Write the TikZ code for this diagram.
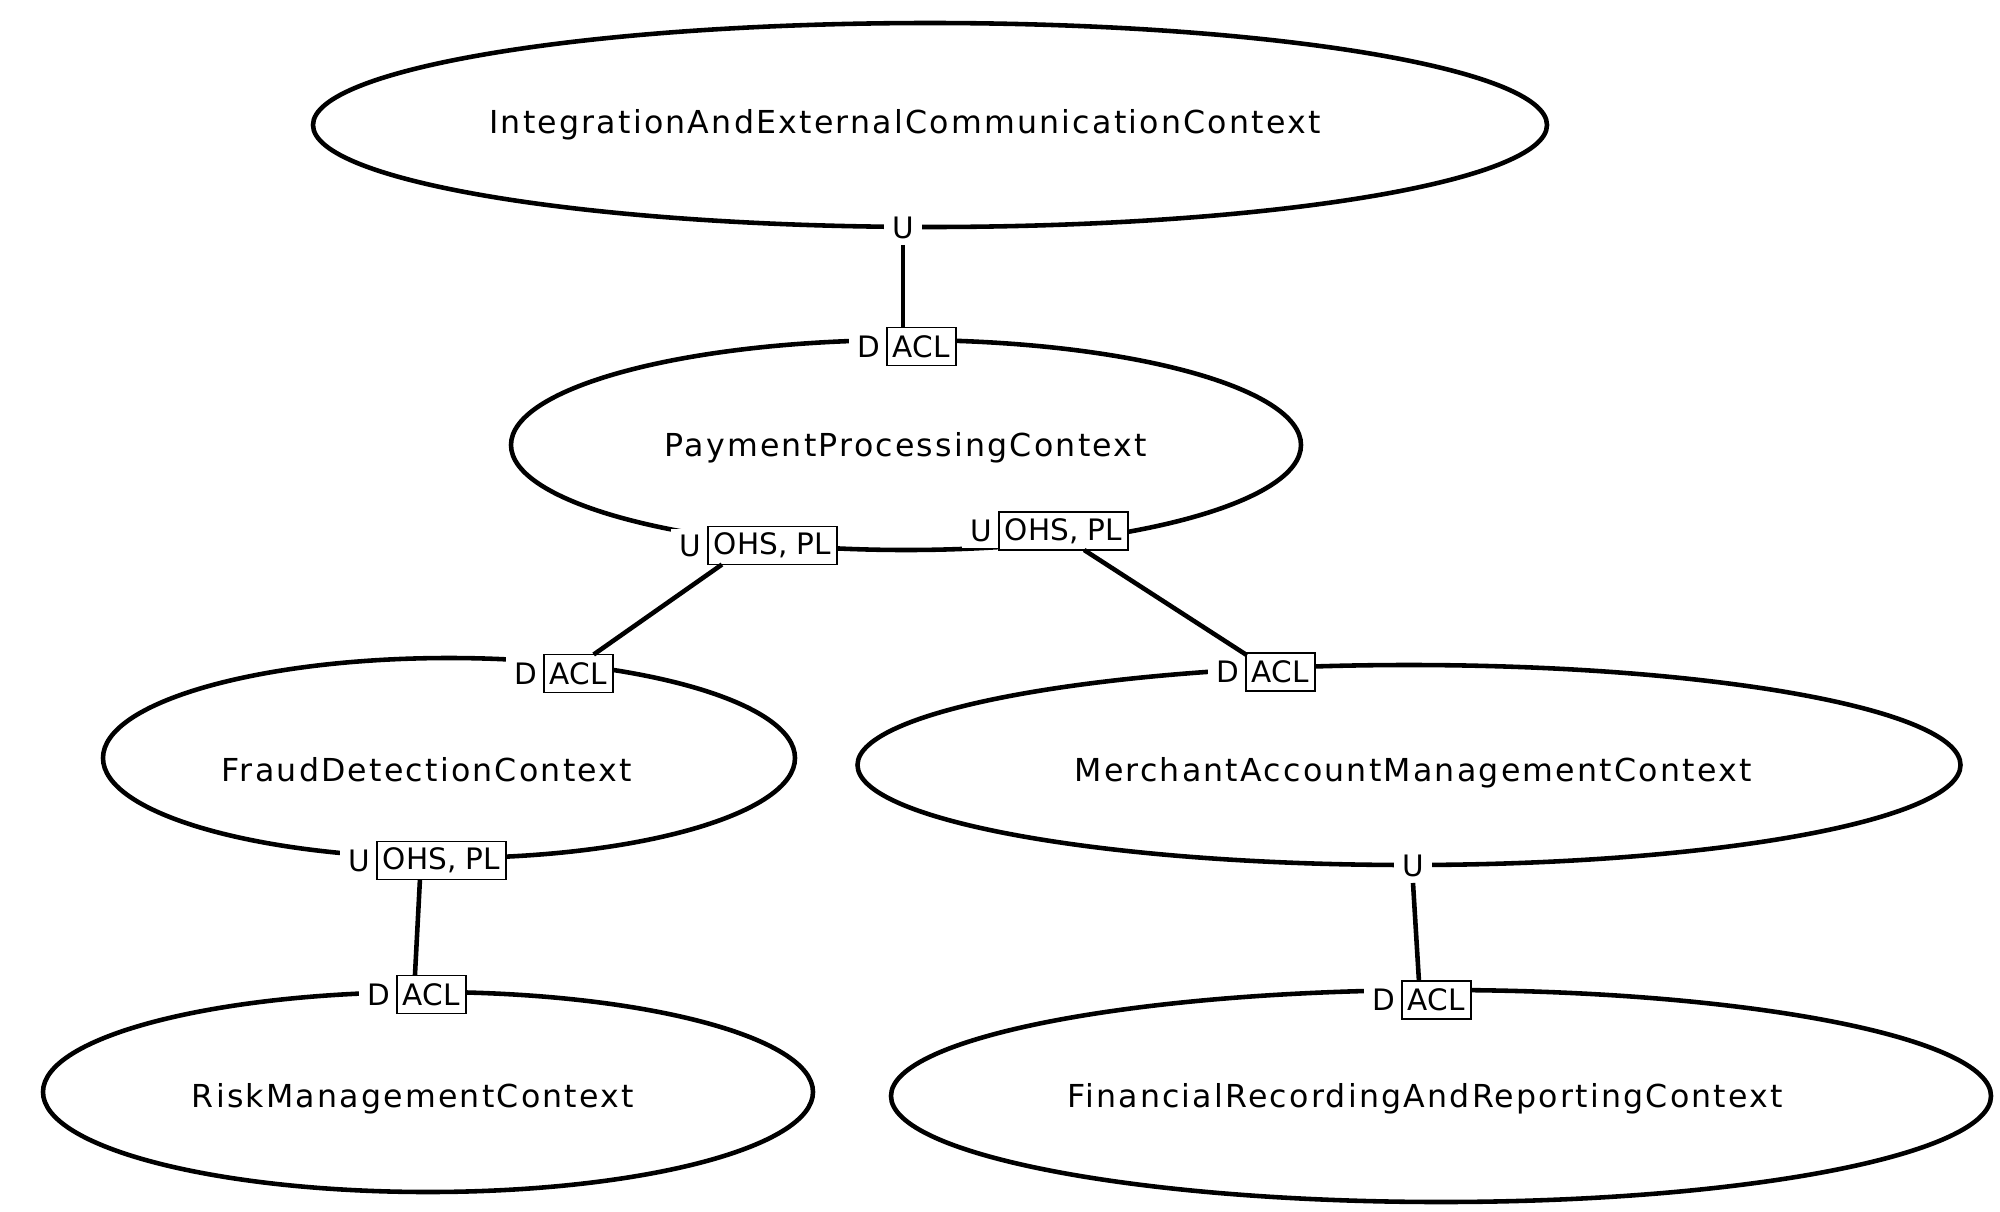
\documentclass[tikz,border=0pt]{standalone}
\usepackage{fontspec}
\setmainfont{DejaVu Sans}
\usetikzlibrary{positioning,shapes.geometric}
\newcommand{\ctxfont}{\fontsize{9}{11}\selectfont\addfontfeatures{LetterSpace=7}}
\newcommand{\tagfont}{\fontsize{8.4}{10}\selectfont}
\tikzset{
  ctx/.style={ellipse,draw,line width=1.3pt,inner sep=0pt},
  ctxname/.style={font=\ctxfont,inner sep=0pt},
  tag/.style={draw,line width=0.55pt,fill=white,inner xsep=0.6mm,inner ysep=0.6mm,minimum height=0.38cm,outer sep=0pt,font=\tagfont},
  lbl/.style={fill=white,inner xsep=0.8mm,inner ysep=0.6mm,outer sep=0pt,font=\tagfont},
  link/.style={line width=1.3pt}
}
\begin{document}
\begin{tikzpicture}
  \useasboundingbox (0,0) rectangle (20,12.11);
  % bounded contexts
  \node[ctx,minimum width=12.34cm,minimum height=2.04cm,
    label={[ctxname,shift={(-0.25,0)}]center:IntegrationAndExternalCommunicationContext}] (iec) at (9.30,10.86) {};
  \node[ctx,minimum width=7.90cm,minimum height=2.1cm,
    label={[ctxname,shift={(0,-0.025)}]center:PaymentProcessingContext}] (pp) at (9.06,7.66) {};
  \node[ctx,minimum width=6.92cm,minimum height=2.0cm,
    label={[ctxname,shift={(-0.22,-0.115)}]center:FraudDetectionContext}] (fd) at (4.49,4.53) {};
  \node[ctx,minimum width=11.03cm,minimum height=2.0cm,
    label={[ctxname,shift={(0.04,-0.077)}]center:MerchantAccountManagementContext}] (mam) at (14.09,4.46) {};
  \node[ctx,minimum width=7.70cm,minimum height=2.0cm,
    label={[ctxname,shift={(-0.15,-0.064)}]center:RiskManagementContext}] (rm) at (4.28,1.19) {};
  \node[ctx,minimum width=11.0cm,minimum height=2.12cm,
    label={[ctxname,shift={(-0.16,-0.025)}]center:FinancialRecordingAndReportingContext}] (fr) at (14.41,1.15) {};

  % ports
  \node[lbl] (iecU) at (9.03,9.83) {U};
  \node[lbl,anchor=east] (ppD) at (8.88,8.645) {D};
  \node[tag,right=-0.3pt of ppD] (ppacl) {ACL};
  \node[lbl,anchor=east] (ppLU) at (7.09,6.655) {U};
  \node[tag,right=-0.3pt of ppLU] (ppL) {OHS, PL};
  \node[lbl,anchor=east] (ppRU) at (10.00,6.80) {U};
  \node[tag,right=-0.3pt of ppRU] (ppR) {OHS, PL};
  \node[lbl,anchor=east] (fdD) at (5.45,5.375) {D};
  \node[tag,right=-0.3pt of fdD] (fdacl) {ACL};
  \node[lbl,anchor=east] (fdU) at (3.78,3.505) {U};
  \node[tag,right=-0.3pt of fdU] (fdohs) {OHS, PL};
  \node[lbl,anchor=east] (mamD) at (12.47,5.39) {D};
  \node[tag,right=-0.3pt of mamD] (mamacl) {ACL};
  \node[lbl] (mamU) at (14.13,3.45) {U};
  \node[lbl,anchor=east] (rmD) at (3.98,2.165) {D};
  \node[tag,right=-0.3pt of rmD] (rmacl) {ACL};
  \node[lbl,anchor=east] (frD) at (14.03,2.11) {D};
  \node[tag,right=-0.3pt of frD] (fracl) {ACL};

  % relations
  \draw[link] (iecU.south) -- (iecU.south |- ppacl.north);
  \draw[link] ([xshift=1.4mm]ppL.south west) -- ([xshift=-1.9mm]fdacl.north east);
  \draw[link] ([xshift=-4.4mm]ppR.south east) -- (mamD.north east);
  \draw[link] ([xshift=4.3mm]fdohs.south west) -- ([xshift=1.8mm]rmacl.north west);
  \draw[link] (mamU.south) -- ([xshift=1.7mm]fracl.north west);
\end{tikzpicture}
\end{document}
